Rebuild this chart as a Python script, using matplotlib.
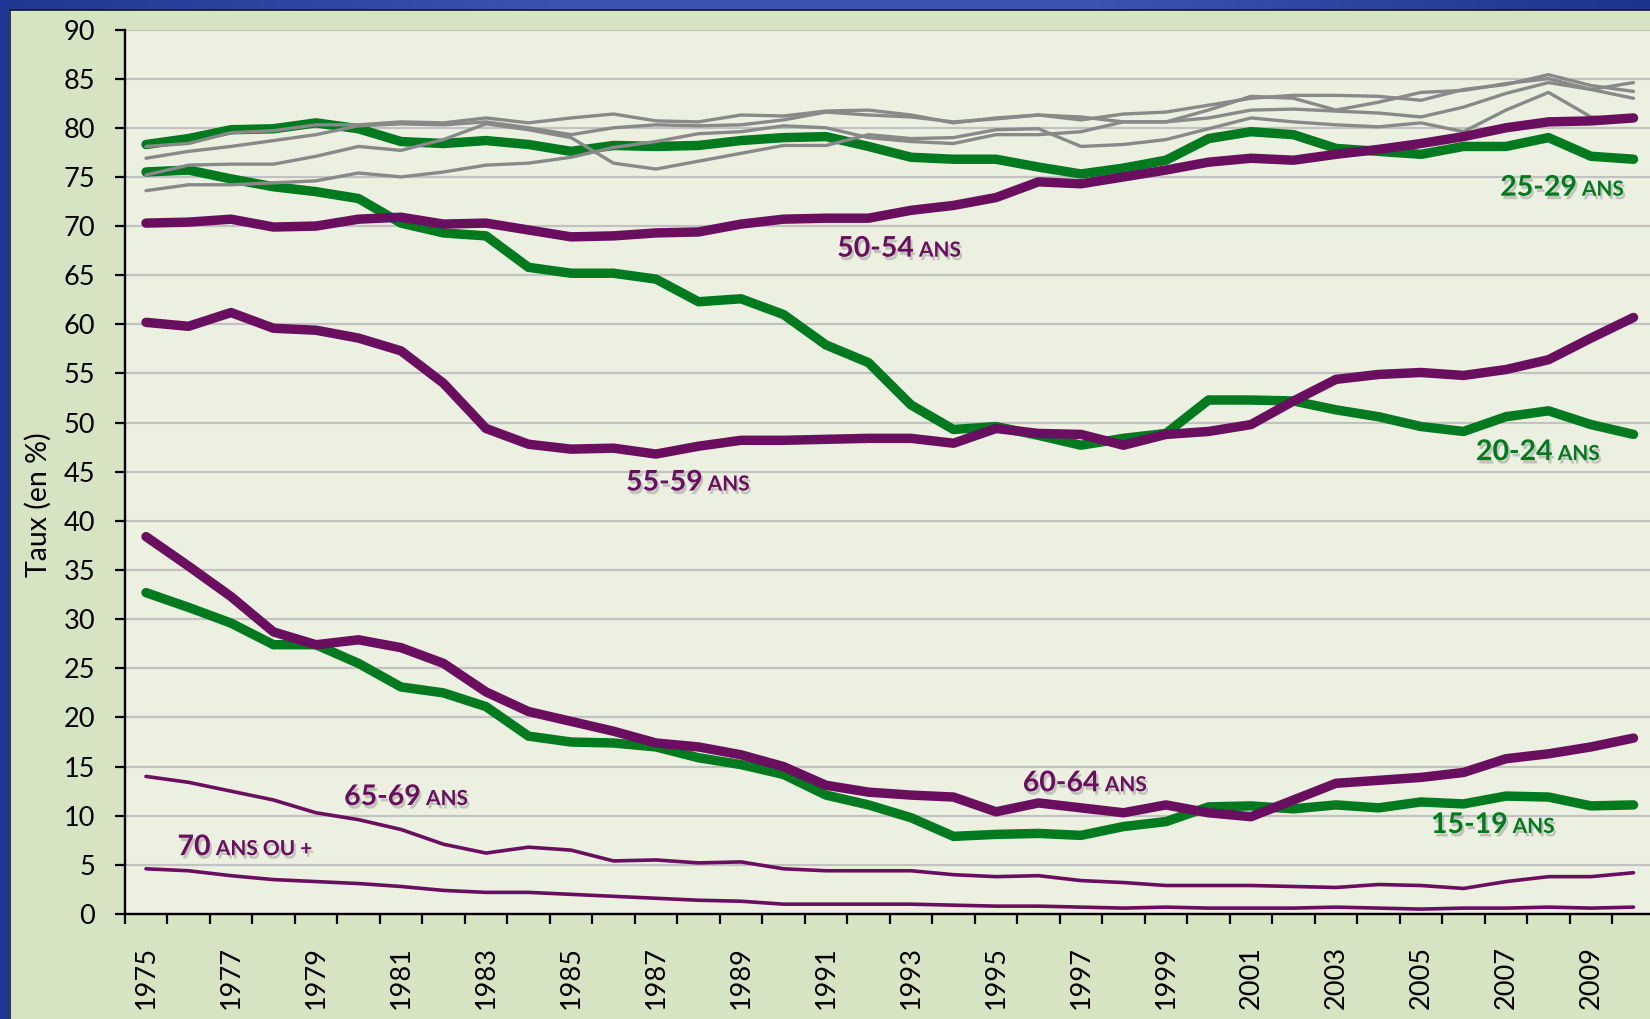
import numpy as np
import matplotlib
matplotlib.use('Agg')
import matplotlib.pyplot as plt
import matplotlib.patheffects as pe
from matplotlib.colors import LinearSegmentedColormap
from matplotlib.offsetbox import TextArea, HPacker, AnnotationBbox

plt.rcParams['font.family'] = ['Lato', 'DejaVu Sans']

years = list(range(1975, 2011))

g15_19 = [32.7, 31.2, 29.6, 27.4, 27.4, 25.5, 23.1, 22.5, 21.1, 18.1, 17.5, 17.4, 17.0, 15.9, 15.2, 14.2, 12.1, 11.1,
          9.8, 7.9, 8.1, 8.2, 8.0, 8.9, 9.4, 10.9, 11.0, 10.7, 11.1, 10.8, 11.4, 11.2, 12.0, 11.9, 11.0, 11.1]
g20_24 = [75.5, 75.7, 74.8, 74.0, 73.5, 72.8, 70.3, 69.3, 69.0, 65.8, 65.2, 65.2, 64.6, 62.3, 62.6, 61.0, 57.9, 56.1,
          51.8, 49.3, 49.6, 48.7, 47.7, 48.4, 48.9, 52.3, 52.3, 52.2, 51.3, 50.6, 49.6, 49.1, 50.6, 51.2, 49.8, 48.8]
g25_29 = [78.3, 78.9, 79.8, 79.9, 80.5, 79.9, 78.6, 78.4, 78.7, 78.3, 77.6, 78.2, 78.1, 78.2, 78.7, 79.0, 79.1, 78.1,
          77.0, 76.8, 76.8, 76.0, 75.3, 75.9, 76.7, 78.9, 79.6, 79.3, 77.9, 77.6, 77.3, 78.1, 78.1, 79.0, 77.1, 76.8]
g30_34 = [78.1, 78.4, 79.5, 79.7, 80.3, 80.3, 80.6, 80.5, 81.0, 80.5, 81.0, 81.4, 80.7, 80.6, 81.3, 81.2, 81.7, 81.8,
          81.3, 80.5, 81.0, 81.3, 80.8, 81.4, 81.6, 82.3, 83.0, 83.3, 83.3, 83.2, 82.8, 83.9, 84.4, 85.4, 84.3, 83.7]
g35_39 = [76.9, 77.6, 78.1, 78.7, 79.3, 80.2, 80.4, 80.3, 80.6, 80.0, 79.3, 80.0, 80.3, 80.2, 80.3, 80.8, 81.6, 81.3,
          81.1, 80.6, 80.9, 81.3, 81.1, 80.6, 80.6, 81.8, 83.2, 83.0, 81.8, 82.6, 83.6, 83.8, 84.5, 85.0, 83.9, 84.6]
g40_44 = [75.2, 76.2, 76.3, 76.3, 77.1, 78.1, 77.7, 78.8, 80.4, 79.8, 79.0, 76.4, 75.8, 76.6, 77.4, 78.2, 78.2, 79.3,
          78.9, 79.0, 79.8, 79.9, 78.1, 78.3, 78.8, 79.9, 81.0, 80.6, 80.3, 80.1, 80.5, 79.6, 81.8, 83.6, 81.1, 80.9]
g45_49 = [73.6, 74.2, 74.2, 74.4, 74.6, 75.4, 75.0, 75.5, 76.2, 76.4, 77.0, 78.0, 78.6, 79.4, 79.6, 80.2, 80.0, 79.0,
          78.6, 78.4, 79.3, 79.3, 79.6, 80.6, 80.6, 81.0, 81.8, 81.9, 81.7, 81.5, 81.1, 82.1, 83.5, 84.6, 83.9, 83.0]
p50_54 = [70.3, 70.4, 70.7, 69.9, 70.0, 70.7, 70.9, 70.2, 70.3, 69.6, 68.9, 69.0, 69.3, 69.4, 70.2, 70.7, 70.8, 70.8,
          71.6, 72.1, 72.9, 74.5, 74.3, 75.0, 75.7, 76.5, 76.9, 76.7, 77.3, 77.8, 78.4, 79.1, 80.0, 80.6, 80.7, 81.0]
p55_59 = [60.2, 59.8, 61.2, 59.6, 59.4, 58.6, 57.3, 54.0, 49.4, 47.8, 47.3, 47.4, 46.8, 47.6, 48.2, 48.2, 48.3, 48.4,
          48.4, 47.9, 49.4, 48.9, 48.8, 47.7, 48.8, 49.1, 49.8, 52.2, 54.4, 54.9, 55.1, 54.8, 55.4, 56.4, 58.6, 60.7]
p60_64 = [38.4, 35.4, 32.3, 28.7, 27.4, 27.9, 27.1, 25.5, 22.6, 20.6, 19.6, 18.6, 17.4, 17.0, 16.2, 15.0, 13.1, 12.4,
          12.1, 11.9, 10.4, 11.3, 10.8, 10.3, 11.1, 10.3, 9.9, 11.6, 13.3, 13.6, 13.9, 14.4, 15.8, 16.3, 17.0, 17.9]
p65_69 = [14.0, 13.4, 12.5, 11.6, 10.3, 9.6, 8.6, 7.1, 6.2, 6.8, 6.5, 5.4, 5.5, 5.2, 5.3, 4.6, 4.4, 4.4,
          4.4, 4.0, 3.8, 3.9, 3.4, 3.2, 2.9, 2.9, 2.9, 2.8, 2.7, 3.0, 2.9, 2.6, 3.3, 3.8, 3.8, 4.2]
p70 = [4.6, 4.4, 3.9, 3.5, 3.3, 3.1, 2.8, 2.4, 2.2, 2.2, 2.0, 1.8, 1.6, 1.4, 1.3, 1.0, 1.0, 1.0,
       1.0, 0.9, 0.8, 0.8, 0.7, 0.6, 0.7, 0.6, 0.6, 0.6, 0.7, 0.6, 0.5, 0.6, 0.6, 0.7, 0.6, 0.7]

GREEN = '#007a1f'
PURPLE = '#6a0f5f'
GRAY = '#898989'

x = np.arange(len(years))

fig = plt.figure(figsize=(16.5, 10.19), dpi=100)
fig.patch.set_facecolor('#d6e4c3')

# blue frame (top band + left band)
band = fig.add_axes([0, 1 - 10 / 1019, 1, 10 / 1019])
cmap = LinearSegmentedColormap.from_list('b', ['#1f3892', '#3953ae', '#3a54b0', '#1d348c'])
band.imshow(np.linspace(0, 1, 256)[None, :], aspect='auto', cmap=cmap)
band.axis('off')
lband = fig.add_axes([0, 0, 9 / 1650, 1])
lband.set_facecolor('#1e3794')
lband.set_xticks([])
lband.set_yticks([])
for s in lband.spines.values():
    s.set_visible(False)
fig.add_artist(plt.Line2D([9.5 / 1650, 9.5 / 1650], [0, 1 - 9.5 / 1019], color='#101830', lw=1.2))
fig.add_artist(plt.Line2D([9.5 / 1650, 1], [1 - 9.5 / 1019, 1 - 9.5 / 1019], color='#101830', lw=1.2))

ax = fig.add_axes([124.75 / 1650, 1 - 914 / 1019, 1530 / 1650, 884.5 / 1019])
ax.set_facecolor('#ecf0e1')

thick = dict(lw=6.8, solid_capstyle='round', solid_joinstyle='round', zorder=3)
thin = dict(lw=2.4, solid_capstyle='round', solid_joinstyle='round', zorder=3)

ax.plot(x, g15_19, color=GREEN, **thick)
ax.plot(x, g20_24, color=GREEN, **thick)
ax.plot(x, g25_29, color=GREEN, **thick)
for s in [g30_34, g35_39, g40_44, g45_49]:
    ax.plot(x, s, color=GRAY, **thin)
ax.plot(x, p50_54, color=PURPLE, **thick)
ax.plot(x, p55_59, color=PURPLE, **thick)
ax.plot(x, p60_64, color=PURPLE, **thick)
ax.plot(x, p65_69, color=PURPLE, lw=2.6, solid_capstyle='round', zorder=3)
ax.plot(x, p70, color=PURPLE, lw=2.6, solid_capstyle='round', zorder=3)

ax.set_xlim(-0.5, len(years) - 0.5)
ax.set_ylim(0, 90)
ax.set_yticks(np.arange(0, 91, 5))
ax.yaxis.grid(True, color='#c2c2c2', lw=1.6, zorder=1)
ax.set_axisbelow(True)

ax.set_xticks(np.arange(-0.5, len(years), 1))
ax.set_xticklabels([])
ax.set_xticks(x[::2], minor=True)
ax.set_xticklabels([str(y) for y in years[::2]], minor=True, rotation=90)
ax.tick_params(axis='x', which='major', length=7.2, width=1.6, direction='out', color='black')
ax.tick_params(axis='x', which='minor', length=0, pad=23, labelsize=19.5)
ax.tick_params(axis='y', length=7.2, width=1.6, direction='out', pad=14, labelsize=19.5)

for side in ['top', 'right']:
    ax.spines[side].set_visible(False)
for side in ['left', 'bottom']:
    ax.spines[side].set_linewidth(1.7)
    ax.spines[side].set_color('black')

fig.text(38 / 1650, 1 - 505 / 1019, 'Taux (en %)', rotation=90, ha='center', va='center', fontsize=20.5)

shadow = [pe.withSimplePatchShadow(offset=(1.5, -2.5), shadow_rgbFace='#6f6f6f', alpha=0.35)]

labels = [
    ('25-29', ' ANS', GREEN, 33.32, 73.9),
    ('50-54', ' ANS', PURPLE, 17.72, 67.7),
    ('55-59', ' ANS', PURPLE, 12.75, 43.9),
    ('20-24', ' ANS', GREEN, 32.75, 47.0),
    ('60-64', ' ANS', PURPLE, 22.09, 13.3),
    ('15-19', ' ANS', GREEN, 31.69, 9.06),
    ('65-69', ' ANS', PURPLE, 6.12, 11.9),
    ('70', ' ANS OU +', PURPLE, 2.33, 6.8),
]
for big, small, col, lx, ly in labels:
    t1 = TextArea(big, textprops=dict(color=col, fontsize=20.5, fontweight='bold', path_effects=shadow))
    t2 = TextArea(small, textprops=dict(color=col, fontsize=15, fontweight='bold', path_effects=shadow))
    box = HPacker(children=[t1, t2], align='baseline', pad=0, sep=0)
    ab = AnnotationBbox(box, (lx, ly), xycoords='data', frameon=False, box_alignment=(0.5, 0.5), zorder=5)
    ax.add_artist(ab)

fig.savefig('out.png', dpi=100, facecolor=fig.get_facecolor())
